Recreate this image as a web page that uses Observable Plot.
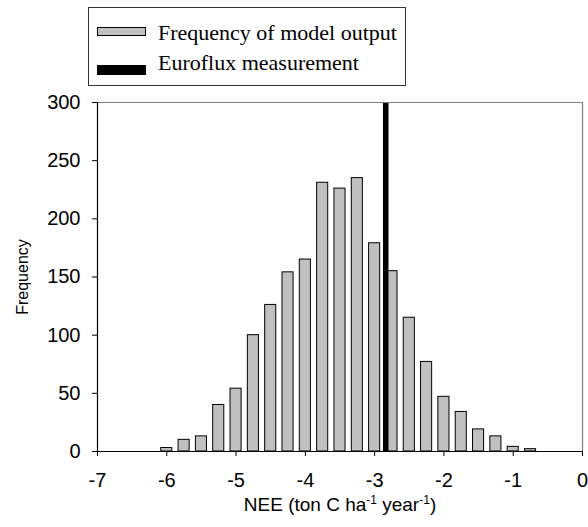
<!DOCTYPE html>
<html>
<head>
<meta charset="utf-8">
<script src="https://cdn.jsdelivr.net/npm/d3@7"></script>
<script src="https://cdn.jsdelivr.net/npm/@observablehq/plot@0.6"></script>
<style>
  body { margin: 0; background: #fff; }
  #wrap { position: relative; width: 588px; height: 527px; }
  #chart svg text { font-size: 20px; font-family: "Liberation Sans", Arial, sans-serif; }
  #legend { position: absolute; left: 88px; top: 7px; width: 316px; height: 77px; border: 1px solid #333; background: #fff;
            font-family: "Liberation Serif", "Times New Roman", serif; font-size: 22px; color: #000; }
  .sw { position: absolute; left: 8px; width: 49px; box-sizing: border-box; }
  .lt { position: absolute; left: 69px; line-height: 22px; white-space: nowrap; }
</style>
</head>
<body>
<div id="wrap">
  <div id="chart"></div>
  <div id="legend">
    <div class="sw" style="top:19px;height:9px;background:#c0c0c0;border:1px solid #000;"></div>
    <div class="lt" style="top:13.6px;">Frequency of model output</div>
    <div class="sw" style="top:57px;height:10px;background:#000;"></div>
    <div class="lt" style="top:43.6px;">Euroflux measurement</div>
  </div>
</div>
<script>
// Histogram bin centres (NEE, ton C ha-1 year-1)
const binCenters = [-6, -5.75, -5.5, -5.25, -5, -4.75, -4.5, -4.25, -4, -3.75, -3.5, -3.25, -3, -2.75, -2.5, -2.25, -2, -1.75, -1.5, -1.25, -1, -0.75];
// Frequency of model output in each bin
const counts = [3, 10, 13, 40, 54, 100, 126, 154, 165, 231, 226, 235, 179, 155, 115, 77, 47, 34, 19, 13, 4, 2];
// Euroflux measurement
const measurement = [-2.84];
const xTicks = [-7, -6, -5, -4, -3, -2, -1, 0];
const yTicks = [0, 50, 100, 150, 200, 250, 300];

const data = binCenters.map((x, i) => ({x, count: counts[i]}));
const halfW = 0.08;

const chart = Plot.plot({
  width: 588,
  height: 527,
  marginLeft: 97,
  marginRight: 6,
  marginTop: 102,
  marginBottom: 76,
  style: {fontFamily: "'Liberation Sans', Arial, sans-serif", fontSize: "20px", background: "white", color: "#000"},
  x: {domain: [-7, 0], ticks: xTicks, tickFormat: d => String(d), tickSize: 5, tickPadding: 16, label: null},
  y: {domain: [0, 300], ticks: yTicks, tickFormat: d => String(d), tickSize: 5, tickPadding: 12, label: null},
  marks: [
    Plot.rectY(data, {x1: d => d.x - halfW, x2: d => d.x + halfW, y: "count", fill: "#c0c0c0", stroke: "#000", strokeWidth: 1}),
    Plot.ruleX(measurement, {stroke: "#000", strokeWidth: 5.5}),
    Plot.ruleY([300], {stroke: "#808080", strokeWidth: 1.2}),
    Plot.ruleX([0], {stroke: "#808080", strokeWidth: 1.2}),
    Plot.ruleY([0], {stroke: "#000", strokeWidth: 1.2}),
    Plot.ruleX([-7], {stroke: "#000", strokeWidth: 1.2})
  ]
});
document.getElementById("chart").appendChild(chart);

const svg = d3.select(chart);
const xt = svg.append("text")
  .attr("x", 340).attr("y", 511)
  .attr("text-anchor", "middle")
  .style("font-family", "'Liberation Sans', Arial, sans-serif")
  .style("font-size", "19px")
  .attr("fill", "#000");
xt.append("tspan").text("NEE (ton C ha");
xt.append("tspan").attr("dy", -7).style("font-size", "12px").text("-1");
xt.append("tspan").attr("dy", 7).text(" year");
xt.append("tspan").attr("dy", -7).style("font-size", "12px").text("-1");
xt.append("tspan").attr("dy", 7).text(")");

svg.append("text")
  .attr("transform", "translate(22,277) rotate(-90)")
  .attr("text-anchor", "middle")
  .attr("dy", "0.35em")
  .style("font-family", "'Liberation Sans', Arial, sans-serif")
  .style("font-size", "16px")
  .attr("fill", "#000")
  .text("Frequency");
</script>
</body>
</html>
